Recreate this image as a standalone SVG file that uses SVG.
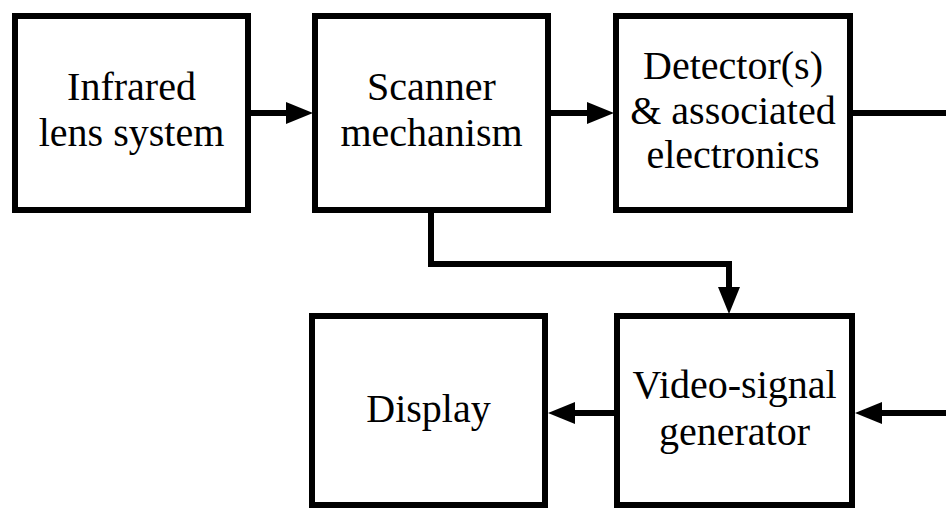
<svg xmlns="http://www.w3.org/2000/svg" width="946" height="508" viewBox="0 0 946 508">
  <style>
    .box { fill: #ffffff; stroke: #000000; stroke-width: 6; }
    .label { font-family: "Liberation Serif", "DejaVu Serif", serif; font-size: 40px; fill: #000000; text-anchor: middle; }
    .wire { fill: none; stroke: #000000; stroke-width: 6; stroke-linejoin: miter; }
  </style>
  <defs>
    <marker id="head" markerUnits="userSpaceOnUse" markerWidth="27" markerHeight="22" refX="0" refY="11" orient="auto">
      <path d="M0,0 L27,11 L0,22 Z" fill="#000000"/>
    </marker>
  </defs>

  <rect width="946" height="508" fill="#ffffff"/>

  <g id="connectors">
    <path class="wire" d="M251,113 H286" marker-end="url(#head)"/>
    <path class="wire" d="M551,113 H587" marker-end="url(#head)"/>
    <path class="wire" d="M853,113 H946"/>
    <path class="wire" d="M431,213 V264 H729 V287" marker-end="url(#head)"/>
    <path class="wire" d="M946,413 H882" marker-end="url(#head)"/>
    <path class="wire" d="M614,413 H575" marker-end="url(#head)"/>
  </g>

  <g id="lens">
    <rect class="box" x="15" y="16" width="233" height="194"/>
    <text class="label" x="131.5" y="100">Infrared</text>
    <text class="label" x="131.5" y="146">lens system</text>
  </g>

  <g id="scanner">
    <rect class="box" x="315" y="16" width="233" height="194"/>
    <text class="label" x="431.5" y="100">Scanner</text>
    <text class="label" x="431.5" y="146">mechanism</text>
  </g>

  <g id="detector">
    <rect class="box" x="616" y="16" width="234" height="194"/>
    <text class="label" x="733" y="79">Detector(s)</text>
    <text class="label" x="733" y="124">&amp; associated</text>
    <text class="label" x="733" y="168">electronics</text>
  </g>

  <g id="display">
    <rect class="box" x="312" y="316" width="233" height="189"/>
    <text class="label" x="428.5" y="422">Display</text>
  </g>

  <g id="video">
    <rect class="box" x="617" y="316" width="235" height="189"/>
    <text class="label" x="734.5" y="398">Video-signal</text>
    <text class="label" x="734.5" y="445">generator</text>
  </g>
</svg>
